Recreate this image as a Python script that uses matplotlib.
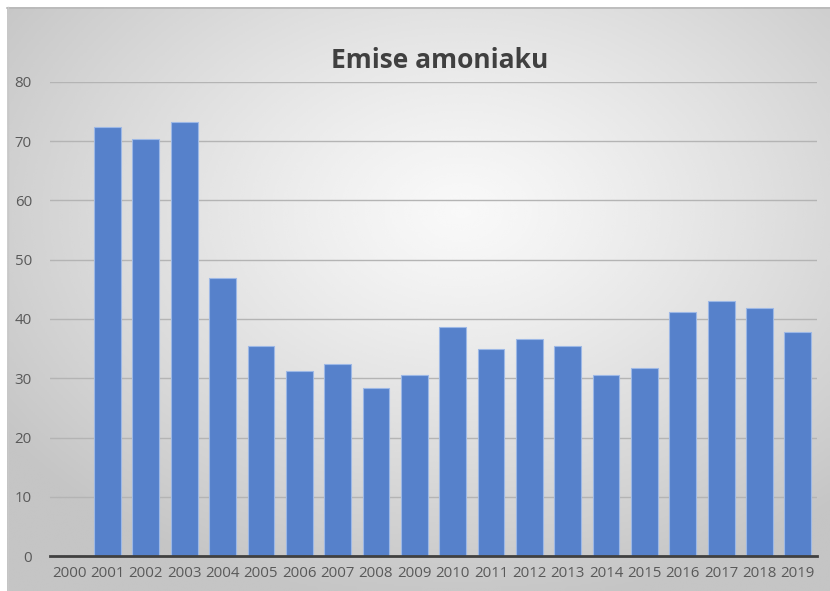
import numpy as np
import matplotlib
matplotlib.use("Agg")
import matplotlib.pyplot as plt
from matplotlib.lines import Line2D

years = [str(y) for y in range(2000, 2020)]
values = [0, 72.4, 70.4, 73.2, 46.9, 35.4, 31.2, 32.4, 28.4, 30.5,
          38.7, 34.9, 36.6, 35.4, 30.6, 31.8, 41.1, 43.1, 41.8, 37.8]
yticks = [0, 10, 20, 30, 40, 50, 60, 70, 80]
title = "Emise amoniaku"

plt.rcParams['font.family'] = ['Open Sans', 'DejaVu Sans']

W, H = 830, 591
fig = plt.figure(figsize=(W / 100, H / 100), dpi=100)
fig.patch.set_facecolor('white')

# radial gradient background (chart area)
bg = fig.add_axes([7 / W, 0, 1 - 7 / W, 1 - 7 / H])
bg.set_axis_off()
yy, xx = np.mgrid[0:300, 0:420]
cx, cy = 0.55 * 420, 0.35 * 300
r = np.sqrt(((xx - cx) / 420) ** 2 + ((yy - cy) / 300) ** 2) / 0.68
r = np.clip(r, 0, 1)
light, dark = 0.975, 0.77
img = light - (light - dark) * r ** 1.2
bg.imshow(img, cmap='gray', vmin=0, vmax=1, aspect='auto',
          extent=[0, 1, 0, 1], interpolation='bicubic')
bg.set_xlim(0, 1)
bg.set_ylim(0, 1)
fig.add_artist(Line2D([7 / W, 1], [1 - 7.5 / H, 1 - 7.5 / H], color='#b8b8b8', lw=1.2))
fig.add_artist(Line2D([7.5 / W, 7.5 / W], [0, 1 - 7 / H], color='#c8c8c8', lw=1.0))

ax = fig.add_axes([50 / W, 35 / H, (817 - 50) / W, (556 - 82) / H])
ax.set_facecolor('none')
x = np.arange(len(years))
ax.bar(x, values, width=0.70, color='#5681cb', edgecolor='#9db8e6', linewidth=0.8, zorder=3)
ax.set_xlim(-0.5, len(years) - 0.5)
ax.set_ylim(0, 80)
ax.set_yticks(yticks)
ax.set_yticklabels([str(t) for t in yticks])
ax.set_xticks(x)
ax.set_xticklabels(years)
ax.yaxis.grid(True, color='#b4b4b4', linewidth=1.0, zorder=0)
ax.set_axisbelow(True)
for s in ['top', 'right', 'left']:
    ax.spines[s].set_visible(False)
ax.spines['bottom'].set_color('#404040')
ax.spines['bottom'].set_linewidth(2.0)
ax.spines['bottom'].set_zorder(4)
ax.tick_params(axis='both', length=0, labelsize=10.8, labelcolor='#595959')
ax.tick_params(axis='y', pad=13)
ax.tick_params(axis='x', pad=7)

fig.text(0.530, 1 - 61 / H, title, ha='center', va='center',
         fontsize=19, fontweight='bold', color='#404040')

fig.savefig('out.png', dpi=100)
